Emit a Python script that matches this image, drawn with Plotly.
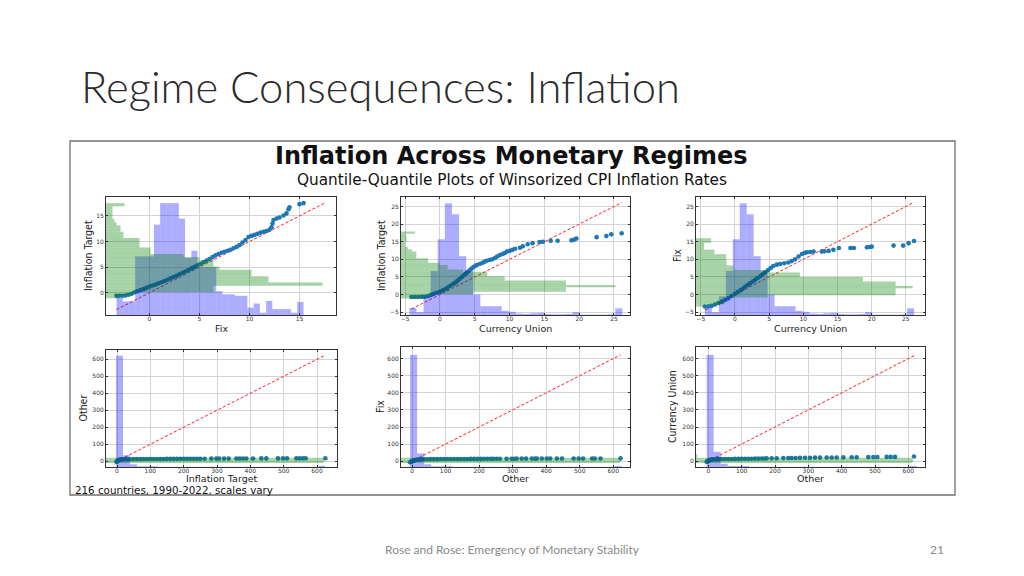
import numpy as np
import plotly.graph_objects as go

W, H = 1024, 576

# ---------------------------------------------------------------- data
# Quantile-quantile points (x quantile, y quantile)
TL_QQ = [(-3.3, -0.6), (-3.0, -0.6), (-2.7, -0.6), (-2.4, -0.55), (-2.1, -0.4), (-1.8, -0.2),
         (-1.5, 0.1), (-1.2, 0.3), (-0.9, 0.5), (-0.6, 0.7), (-0.3, 0.95), (0.0, 1.2), (0.3, 1.4),
         (0.6, 1.6), (0.9, 1.85), (1.2, 2.05), (1.5, 2.3), (1.8, 2.55), (2.1, 2.8), (2.4, 3.05),
         (2.7, 3.3), (3.0, 3.6), (3.3, 3.9), (3.6, 4.15), (3.9, 4.45), (4.2, 4.75), (4.5, 5.05),
         (4.8, 5.35), (5.1, 5.6), (5.4, 5.95), (5.7, 6.3), (6.0, 6.6), (6.3, 6.95), (6.6, 7.3),
         (6.9, 7.55), (7.2, 7.8), (7.5, 8.0), (7.8, 8.2), (8.1, 8.4), (8.4, 8.7), (8.7, 8.95),
         (9.0, 9.3), (9.3, 9.8), (9.6, 10.3), (9.9, 10.9), (10.2, 11.1), (10.5, 11.3), (10.8, 11.5),
         (11.1, 11.75), (11.4, 11.9), (11.7, 12.05), (12.0, 12.3), (12.2, 12.8), (12.3, 13.5),
         (12.4, 14.2), (12.7, 14.5), (13.0, 14.7), (13.4, 15.1), (13.7, 15.5), (13.9, 16.3),
         (14.0, 16.7), (15.0, 17.3), (15.4, 17.5)]

TM_QQ = [(-4.1, -0.7), (-3.6, -0.7), (-3.1, -0.7), (-2.6, -0.65), (-2.2, -0.6), (-1.7, -0.4),
         (-1.3, -0.1), (-0.9, 0.2), (-0.45, 0.5), (0.0, 0.8), (0.4, 1.2), (0.8, 1.6), (1.1, 2.0),
         (1.5, 2.5), (1.9, 3.0), (2.2, 3.4), (2.5, 3.9), (2.8, 4.4), (3.1, 4.9), (3.4, 5.4),
         (3.7, 5.9), (3.9, 6.3), (4.2, 6.8), (4.5, 7.3), (4.8, 7.8), (5.1, 8.2), (5.3, 8.4),
         (5.7, 8.7), (6.1, 9.0), (6.4, 9.3), (6.7, 9.6), (7.1, 9.8), (7.5, 10.0), (7.9, 10.4),
         (8.2, 10.8), (8.6, 11.2), (9.0, 11.5), (9.3, 11.8), (9.6, 12.2), (10.0, 12.4),
         (10.4, 12.7), (10.8, 13.0), (11.5, 13.3), (11.9, 13.7), (12.6, 14.3), (13.3, 14.6),
         (14.3, 14.9), (14.8, 15.0), (15.9, 15.3), (16.9, 15.3), (18.9, 15.4), (19.3, 15.6),
         (19.6, 15.9), (22.5, 16.3), (23.9, 16.6), (24.6, 17.1), (26.1, 17.4)]

TR_QQ = [(-4.4, -3.4), (-3.9, -3.3), (-3.4, -3.2), (-2.9, -2.8), (-2.4, -2.4), (-1.9, -2.0),
         (-1.4, -1.5), (-0.95, -1.0), (-0.5, -0.4), (0.0, 0.2), (0.4, 0.7), (0.8, 1.2), (1.1, 1.6),
         (1.5, 2.3), (1.9, 2.8), (2.2, 3.2), (2.6, 3.7), (2.95, 4.2), (3.3, 4.7), (3.7, 5.2),
         (4.0, 5.7), (4.4, 6.3), (4.8, 6.9), (5.2, 7.5), (5.6, 8.1), (6.1, 8.5), (6.6, 8.7),
         (7.2, 8.9), (7.8, 9.1), (8.3, 9.5), (8.8, 10.0), (9.3, 10.8), (9.8, 11.5), (10.2, 11.8),
         (10.5, 12.0), (11.0, 12.1), (11.5, 12.2), (12.7, 12.2), (13.1, 12.3), (13.7, 12.4),
         (14.4, 12.7), (15.2, 13.2), (16.9, 13.2), (17.4, 13.2), (19.3, 13.4), (19.7, 13.5),
         (20.0, 13.6), (23.2, 13.9), (24.6, 13.9), (25.4, 14.6), (26.2, 15.2)]

BL_QQ = [(-2, -3), (0, -1), (1, 1), (2, 3), (3, 5), (5, 7), (7, 8), (10, 9.5), (14, 10.5),
         (18, 11), (25, 11.5), (32, 12), (40, 12), (50, 12.5), (60, 12.5), (70, 12.5), (80, 13),
         (90, 13), (100, 13), (110, 13), (120, 13.5), (130, 13.5), (140, 13.5), (150, 14),
         (160, 14), (170, 14), (180, 14), (190, 14.5), (200, 14.5), (210, 14.5), (220, 15),
         (230, 15), (240, 15), (250, 15), (263, 15), (283, 15.5), (298, 15.5), (306, 15.5),
         (321, 15.5), (335, 15.5), (358, 16), (368, 16), (378, 16), (388, 16), (408, 16),
         (433, 16.5), (448, 16.5), (483, 16.5), (498, 17), (510, 17), (538, 17), (548, 17),
         (558, 17), (566, 17.5), (625, 17.5)]

BM_QQ = [(-6, -6), (-3, -3), (0, -1), (2, 1), (4, 3), (7, 5), (10, 7), (14, 8.5), (18, 9.5),
         (24, 10.5), (30, 11), (38, 11.5), (46, 11.5), (55, 12), (65, 12), (75, 12), (85, 12.5),
         (95, 12.5), (105, 12.5), (115, 12.5), (125, 13), (135, 13), (145, 13), (155, 13),
         (165, 13), (175, 13.5), (185, 13.5), (195, 13.5), (205, 13.5), (215, 14), (225, 14),
         (235, 14), (242, 14), (252, 14.5), (262, 14.5), (282, 14.5), (297, 14.5), (304, 14.5),
         (312, 15), (327, 15), (340, 15), (357, 15), (367, 15), (372, 15), (387, 15.5),
         (402, 15.5), (412, 15.5), (432, 15.5), (447, 15.5), (482, 15.5), (497, 16), (510, 16),
         (537, 16), (545, 16), (562, 16), (622, 16.5)]

BR_QQ = [(-5, -4), (-2, -1), (0, 1), (2, 4), (5, 7), (8, 9), (12, 10), (16, 11), (20, 11.5),
         (26, 12), (32, 12), (40, 12.5), (50, 12.5), (60, 13), (70, 13), (80, 13.5), (90, 13.5),
         (100, 14), (110, 14), (120, 14.5), (130, 14.5), (140, 15), (150, 15), (160, 15.5),
         (168, 16), (175, 16.5), (190, 17), (205, 17.5), (225, 18), (240, 18.5), (250, 19),
         (262, 19), (275, 19.5), (290, 20), (305, 20.5), (320, 21), (335, 21), (355, 21.5),
         (370, 22), (385, 22), (405, 22.5), (430, 23), (445, 23), (480, 24), (495, 24),
         (507, 24.5), (535, 25), (547, 25), (560, 25), (617, 27)]

# Histograms of the x series (blue, vertical bars): bin span and bar tops (plot units)
TL_BLUE_BINS = (-3.3, 15.4)
TL_BLUE_TOPS = [-1.0, -1.7, -1.7, 7.1, 7.1, 7.1, 13.3, 17.5, 17.5, 17.5,
                14.5, 6.8, 8.2, 5.0, 5.0, 5.0, 0.3, -0.3, -0.3, -0.6,
                -0.6, -2.9, -2.1, -3.9, -1.6, -3.2, -3.2, -3.2, -3.9, -1.8]
CU_BLUE_BINS = (-4.4, 26.2)
CU_BLUE_TOPS = [-3.8, -5.0, -0.5, 6.7, 15.7, 25.9, 22.8, 10.9, 6.7, 0.0,
                -3.3, -3.3, -3.3, -4.6, -4.9, -5.4, -5.5, -5.3, -5.2, -5.5,
                -5.6, -5.6, -5.5, -5.0, -5.7, -5.7, -5.7, -5.7, -5.6, -3.9]
BL_BLUE_BINS = (-3, 625)
BL_BLUE_TOPS = [622, 35, -18, -30, -30, -30, -33, -33, -33, -33,
                -33, -33, -33, -33, -33, -33, -33, -33, -33, -33,
                -33, -33, -33, -33, -33, -33, -33, -33, -33, -27]
BM_BLUE_BINS = (-6, 625)
BM_BLUE_TOPS = [622, 45, -18, -30, -30, -30, -33, -33, -33, -33,
                -33, -33, -33, -33, -33, -33, -33, -33, -33, -33,
                -33, -33, -33, -33, -33, -33, -33, -33, -33, -28]
BR_BLUE_BINS = (-5, 625)
BR_BLUE_TOPS = [622, 55, -15, -28, -28, -28, -33, -33, -33, -33,
                -33, -33, -33, -33, -33, -33, -33, -33, -33, -33,
                -33, -33, -33, -33, -33, -33, -33, -33, -33, -28]

# Histograms of the y series (green, horizontal bars): bin span and bar right ends (plot units)
TL_GREEN_BINS = (-1.1, 17.5)
TL_GREEN_ENDS = [-3.0, -1.5, 6.4, 6.4, 17.3, 11.9, 11.9, 10.2, 10.2, 7.0,
                 6.4, 6.4, 5.0, 3.4, 0.1, 0.1, -1.0, -1.0, -1.0, -2.6,
                 -2.6, -2.9, -2.9, -3.3, -3.5, -3.7, -3.7, -3.7, -3.7, -2.5]
TM_GREEN_BINS = (-1.1, 17.9)
TM_GREEN_ENDS = [-2.2, -1.0, 4.8, 18.1, 18.1, 25.2, 18.1, 18.1, 9.3, 9.3,
                 6.8, 6.8, 3.3, 1.1, 1.1, -0.1, -1.7, -1.7, -3.4, -3.4,
                 -3.4, -4.0, -4.6, -5.0, -5.0, -4.9, -4.8, -4.8, -4.9, -3.6]
TR_GREEN_BINS = (-3.4, 16.0)
TR_GREEN_ENDS = [-4.4, -1.5, -1.5, -1.5, 4.8, 23.5, 23.5, 23.5, 26.0, 23.5,
                 23.5, 18.7, 18.7, 9.5, 9.5, 5.0, -0.2, -0.2, -1.2, -1.2,
                 -1.3, -1.3, -1.3, -3.0, -3.0, -4.5, -4.5, -4.5, -3.5, -3.5]
BL_GREEN_EDGES = [-10, 0, 10, 20]
BL_GREEN_ENDS = [620, 623, 620]
BM_GREEN_EDGES = [-10, 0, 10, 20]
BM_GREEN_ENDS = [620, 622, 620]
BR_GREEN_EDGES = [-10, 0, 10, 20, 40]
BR_GREEN_ENDS = [612, 615, 612, -33]

TOP_TICKS_A = [0, 5, 10, 15]
TOP_TICKS_B = [-5, 0, 5, 10, 15, 20, 25]
BOTTOM_TICKS = [0, 100, 200, 300, 400, 500, 600]

# ---------------------------------------------------------------- layout spec
panels = [
    dict(qq=TL_QQ, bb=TL_BLUE_BINS, bt=TL_BLUE_TOPS, gb=TL_GREEN_BINS, ge=TL_GREEN_ENDS,
         box=(106, 197, 336, 315), xr=[-4.35, 18.65], yr=[-4.35, 18.7],
         xt=TOP_TICKS_A, yt=TOP_TICKS_A, xtitle="Fix", ytitle="Inflation Target", ytx=88, xty=328),
    dict(qq=TM_QQ, bb=CU_BLUE_BINS, bt=CU_BLUE_TOPS, gb=TM_GREEN_BINS, ge=TM_GREEN_ENDS,
         box=(401, 197, 630, 315), xr=[-5.6, 27.3], yr=[-5.8, 27.7],
         xt=TOP_TICKS_B, yt=TOP_TICKS_B, xtitle="Currency Union", ytitle="Inflation Target", ytx=381, xty=328),
    dict(qq=TR_QQ, bb=CU_BLUE_BINS, bt=CU_BLUE_TOPS, gb=TR_GREEN_BINS, ge=TR_GREEN_ENDS,
         box=(696, 197, 925, 315), xr=[-5.7, 27.8], yr=[-5.8, 27.7],
         xt=TOP_TICKS_B, yt=TOP_TICKS_B, xtitle="Currency Union", ytitle="Fix", ytx=677, xty=328),
    dict(qq=BL_QQ, bb=BL_BLUE_BINS, bt=BL_BLUE_TOPS, gb=BL_GREEN_EDGES, ge=BL_GREEN_ENDS,
         box=(106, 350, 337, 467), xr=[-33, 660], yr=[-34, 655],
         xt=BOTTOM_TICKS, yt=BOTTOM_TICKS, xtitle="Inflation Target", ytitle="Other", ytx=82, xty=478.5),
    dict(qq=BM_QQ, bb=BM_BLUE_BINS, bt=BM_BLUE_TOPS, gb=BM_GREEN_EDGES, ge=BM_GREEN_ENDS,
         box=(401, 347, 630, 467), xr=[-33, 650], yr=[-34, 668],
         xt=BOTTOM_TICKS, yt=BOTTOM_TICKS, xtitle="Other", ytitle="Fix", ytx=380, xty=478.5),
    dict(qq=BR_QQ, bb=BR_BLUE_BINS, bt=BR_BLUE_TOPS, gb=BR_GREEN_EDGES, ge=BR_GREEN_ENDS,
         box=(696, 347, 925, 467), xr=[-37, 650], yr=[-34, 668],
         xt=BOTTOM_TICKS, yt=BOTTOM_TICKS, xtitle="Other", ytitle="Currency Union", ytx=672, xty=478.5),
]

BLUE = "rgba(0,0,255,0.32)"
GREEN = "rgba(0,128,0,0.35)"
DOT = "#1f77b4"
CHART_FONT = "DejaVu Sans"
NARROW_FONT = "Liberation Sans Narrow, DejaVu Sans Condensed, Liberation Sans"


def aid(letter, n):
    return letter if n == 1 else f"{letter}{n}"


def lkey(letter, n):
    return f"{letter}axis" if n == 1 else f"{letter}axis{n}"


def edges_of(spec, count):
    if isinstance(spec, tuple):
        return np.linspace(spec[0], spec[1], count + 1)
    return np.asarray(spec, dtype=float)


fig = go.Figure()
layout = {}
annotations = []

for i, p in enumerate(panels, start=1):
    xa, ya = aid("x", i), aid("y", i)
    xg, yb = aid("x", i + 6), aid("y", i + 6)
    qx, qy = zip(*p["qq"])
    lo = min(min(qx), min(qy))
    hi = max(max(qx), max(qy))

    # 45-degree reference line and QQ points (base axes)
    fig.add_trace(go.Scatter(x=[lo, hi], y=[lo, hi], mode="lines",
                             line=dict(color="#ff2020", width=1, dash="3px,2px"),
                             xaxis=xa, yaxis=ya, hoverinfo="skip"))
    fig.add_trace(go.Scatter(x=qx, y=qy, mode="markers",
                             marker=dict(size=4.6, color=DOT, line=dict(width=0)),
                             xaxis=xa, yaxis=ya))

    # blue histogram on a twin y axis (drawn above the points)
    be = edges_of(p["bb"], len(p["bt"]))
    bc = (be[:-1] + be[1:]) / 2
    y0 = p["yr"][0]
    fig.add_trace(go.Bar(x=bc, y=[t - y0 for t in p["bt"]], base=y0, width=np.diff(be),
                         marker=dict(color=BLUE, line=dict(width=0)),
                         xaxis=xa, yaxis=yb, hoverinfo="skip"))

    # green histogram on a twin x axis
    ge = edges_of(p["gb"], len(p["ge"]))
    gc = (ge[:-1] + ge[1:]) / 2
    x0 = p["xr"][0]
    fig.add_trace(go.Bar(y=gc, x=[e - x0 for e in p["ge"]], base=x0, width=np.diff(ge),
                         orientation="h", marker=dict(color=GREEN, line=dict(width=0)),
                         xaxis=xg, yaxis=ya, hoverinfo="skip"))

    L, T, R, B = p["box"]
    common = dict(showline=True, linecolor="#333333", linewidth=1, mirror="ticks",
                  ticks="inside", ticklen=2, tickcolor="#333333",
                  showgrid=True, gridcolor="#d4d4d4", gridwidth=1, zeroline=False,
                  tickfont=dict(family=CHART_FONT, size=6, color="#333333"))
    layout[lkey("x", i)] = dict(domain=[L / W, R / W], range=p["xr"], anchor=ya,
                                tickvals=p["xt"], ticklabelstandoff=-2, **common)
    layout[lkey("y", i)] = dict(domain=[1 - B / H, 1 - T / H], range=p["yr"], anchor=xa,
                                tickvals=p["yt"], **common)
    layout[lkey("x", i + 6)] = dict(overlaying=xa, range=p["xr"], anchor=ya, visible=False)
    layout[lkey("y", i + 6)] = dict(overlaying=ya, range=p["yr"], anchor=xa, visible=False)

    annotations.append(dict(text=p["xtitle"], x=(L + R) / 2 / W, y=1 - p["xty"] / H,
                            xref="paper", yref="paper", showarrow=False,
                            xanchor="center", yanchor="middle",
                            font=dict(family=CHART_FONT, size=9.5, color="#222222")))
    annotations.append(dict(text=p["ytitle"], x=p["ytx"] / W, y=1 - (T + B) / 2 / H,
                            xref="paper", yref="paper", showarrow=False, textangle=-90,
                            xanchor="center", yanchor="middle",
                            font=dict(family=NARROW_FONT, size=10.5, color="#222222")))

# chart and slide texts
annotations += [
    dict(text="Inflation Across Monetary Regimes", x=511 / W, y=1 - 155.5 / H,
         font=dict(family=CHART_FONT, size=24, color="#111111", weight="bold")),
    dict(text="Quantile-Quantile Plots of Winsorized CPI Inflation Rates", x=512 / W, y=1 - 179.5 / H,
         font=dict(family=CHART_FONT, size=15.3, color="#111111")),
    dict(text="216 countries, 1990-2022, scales vary", x=73 / W, y=1 - 489.5 / H, xanchor="left",
         font=dict(family=CHART_FONT, size=10.3, color="#111111")),
    dict(text="Regime Consequences: Inflation", x=79 / W, y=1 - 86 / H, xanchor="left",
         font=dict(family="Lato", size=43.5, color="#2b2b2b", weight=300)),
    dict(text="Rose and Rose: Emergency of Monetary Stability", x=512 / W, y=1 - 549 / H,
         font=dict(family="Lato", size=12, color="#8a8a8a")),
    dict(text="21", x=937 / W, y=1 - 549 / H,
         font=dict(family="Lato", size=12, color="#8a8a8a")),
]
for a in annotations[-6:]:
    a.setdefault("xref", "paper")
    a.setdefault("yref", "paper")
    a.setdefault("showarrow", False)
    a.setdefault("xanchor", "center")
    a.setdefault("yanchor", "middle")

fig.update_layout(
    width=W, height=H, margin=dict(l=0, r=0, t=0, b=0),
    paper_bgcolor="white", plot_bgcolor="white",
    showlegend=False, barmode="overlay",
    annotations=annotations,
    shapes=[dict(type="rect", xref="paper", yref="paper",
                 x0=70 / W, x1=955 / W, y0=1 - 495 / H, y1=1 - 141 / H,
                 line=dict(color="#707070", width=1.3), fillcolor="rgba(0,0,0,0)")],
    **layout,
)

fig.write_html("out.html", config={"displayModeBar": False},
               post_script="document.body.style.margin='0';document.body.style.overflow='hidden';")
